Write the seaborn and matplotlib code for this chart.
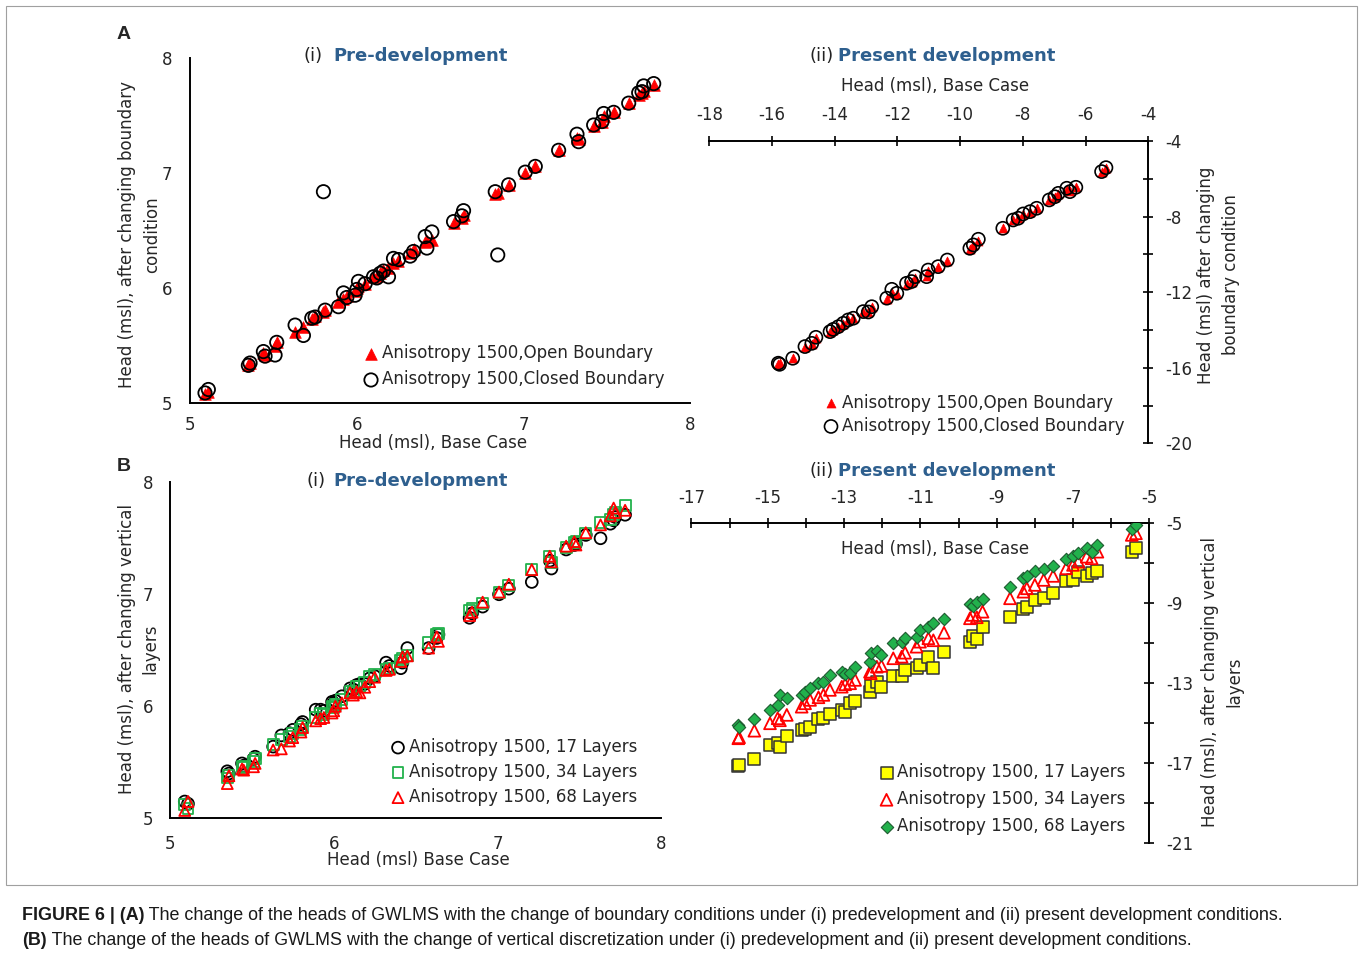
import matplotlib
matplotlib.use('Agg')
import numpy as np
import matplotlib.pyplot as plt
from matplotlib.patches import Rectangle
import seaborn as sns

# ---------------- data ----------------
# (A)(i) / (B)(i) pre-development, base case heads (msl)
pre_base = [5.09, 5.11, 5.35, 5.36, 5.44, 5.45, 5.51, 5.52, 5.63, 5.68,
            5.73, 5.75, 5.80, 5.81, 5.89, 5.92, 5.94, 5.99, 6.00, 6.01,
            6.05, 6.10, 6.12, 6.14, 6.16, 6.19, 6.22, 6.25, 6.32, 6.34,
            6.41, 6.42, 6.45, 6.58, 6.63, 6.64, 6.83, 6.845, 6.91, 7.01,
            7.07, 7.21, 7.32, 7.33, 7.42, 7.47, 7.48, 7.54, 7.63, 7.69,
            7.71, 7.72, 7.78]
pre_open = [5.08, 5.10, 5.33, 5.35, 5.44, 5.42, 5.50, 5.53, 5.62, 5.66,
            5.73, 5.76, 5.79, 5.81, 5.88, 5.91, 5.93, 5.98, 6.00, 6.02,
            6.04, 6.10, 6.11, 6.13, 6.16, 6.18, 6.22, 6.24, 6.31, 6.34,
            6.40, 6.41, 6.42, 6.57, 6.61, 6.64, 6.82, 6.83, 6.90, 7.00,
            7.06, 7.20, 7.31, 7.30, 7.41, 7.45, 7.50, 7.53, 7.61, 7.68,
            7.70, 7.72, 7.77]
pre_closed = [5.09, 5.12, 5.33, 5.35, 5.45, 5.41, 5.42, 5.53, 5.68, 5.59,
              5.74, 5.75, 6.84, 5.81, 5.84, 5.96, 5.92, 5.94, 5.99, 6.06,
              6.04, 6.10, 6.09, 6.13, 6.15, 6.10, 6.26, 6.25, 6.28, 6.32,
              6.45, 6.35, 6.49, 6.58, 6.63, 6.675, 6.84, 6.29, 6.90, 7.01,
              7.06, 7.20, 7.34, 7.275, 7.42, 7.45, 7.52, 7.53, 7.61, 7.70,
              7.71, 7.76, 7.78]
pre_17 = [5.15, 5.13, 5.42, 5.40, 5.49, 5.47, 5.53, 5.55, 5.64, 5.74,
          5.76, 5.79, 5.84, 5.86, 5.97, 5.97, 5.96, 6.04, 6.03, 6.05,
          6.09, 6.16, 6.15, 6.19, 6.20, 6.20, 6.25, 6.27, 6.39, 6.36,
          6.34, 6.39, 6.52, 6.52, 6.61, 6.64, 6.79, 6.83, 6.89, 7.00,
          7.05, 7.11, 7.30, 7.23, 7.40, 7.44, 7.45, 7.53, 7.50, 7.63,
          7.66, 7.69, 7.71]
pre_34 = [5.12, 5.09, 5.36, 5.38, 5.46, 5.45, 5.51, 5.53, 5.655, 5.70,
          5.73, 5.76, 5.79, 5.82, 5.90, 5.94, 5.93, 6.00, 5.99, 6.02,
          6.06, 6.13, 6.12, 6.18, 6.18, 6.21, 6.27, 6.28, 6.33, 6.34,
          6.41, 6.43, 6.45, 6.57, 6.64, 6.65, 6.86, 6.87, 6.92, 7.02,
          7.08, 7.22, 7.34, 7.28, 7.42, 7.46, 7.47, 7.54, 7.64, 7.67,
          7.71, 7.73, 7.79]
pre_68 = [5.07, 5.15, 5.31, 5.38, 5.44, 5.43, 5.46, 5.49, 5.61, 5.62,
          5.69, 5.72, 5.77, 5.81, 5.87, 5.89, 5.90, 5.94, 5.96, 6.00,
          6.03, 6.12, 6.10, 6.13, 6.12, 6.17, 6.22, 6.26, 6.32, 6.33,
          6.40, 6.44, 6.45, 6.52, 6.62, 6.58, 6.81, 6.84, 6.93, 7.02,
          7.09, 7.22, 7.34, 7.29, 7.43, 7.47, 7.44, 7.55, 7.62, 7.70,
          7.77, 7.73, 7.75]

# (A)(ii) present development, boundary condition test
pres_a_base = [-15.80, -15.76, -15.34, -14.95, -14.73, -14.60, -14.15, -14.05,
               -13.89, -13.73, -13.57, -13.41, -13.09, -12.93, -12.82, -12.34,
               -12.18, -12.02, -11.71, -11.55, -11.44, -11.07, -11.02, -10.70,
               -10.41, -9.69, -9.58, -9.42, -8.64, -8.31, -8.15, -7.99,
               -7.77, -7.56, -7.16, -6.98, -6.87, -6.60, -6.50, -6.31,
               -5.49, -5.35]
pres_a_open = [-15.78, -15.74, -15.50, -14.90, -14.72, -14.45, -14.10, -13.98,
               -13.84, -13.66, -13.50, -13.38, -13.05, -13.03, -12.80, -12.35,
               -12.06, -12.08, -11.58, -11.46, -11.25, -11.15, -10.88, -10.66,
               -10.33, -9.70, -9.52, -9.28, -8.62, -8.20, -8.10, -7.88,
               -7.75, -7.56, -7.14, -6.97, -6.80, -6.55, -6.62, -6.45,
               -5.63, -5.43]
pres_a_closed = [-15.76, -15.82, -15.50, -14.88, -14.71, -14.39, -14.09, -13.97,
                 -13.83, -13.65, -13.47, -13.38, -13.03, -13.05, -12.77, -12.32,
                 -11.85, -12.06, -11.53, -11.44, -11.18, -11.18, -10.83, -10.65,
                 -10.30, -9.68, -9.50, -9.20, -8.62, -8.18, -8.09, -7.86,
                 -7.74, -7.56, -7.12, -6.95, -6.77, -6.50, -6.68, -6.45,
                 -5.62, -5.41]

# (B)(ii) present development, vertical layers test
pres_b_base = [-15.77, -15.75, -15.35, -14.94, -14.74, -14.68, -14.50, -14.11,
               -14.02, -13.89, -13.67, -13.54, -13.37, -13.06, -12.97, -12.84,
               -12.71, -12.32, -12.30, -12.14, -12.02, -11.71, -11.49, -11.40,
               -11.10, -11.01, -10.79, -10.66, -10.38, -9.70, -9.63, -9.52,
               -9.37, -8.65, -8.30, -8.21, -8.00, -7.77, -7.52, -7.18,
               -7.00, -6.86, -6.64, -6.51, -6.36, -5.46, -5.35]
pres_b_17 = [-17.13, -17.08, -16.80, -16.08, -16.00, -16.20, -15.63, -15.33,
             -15.30, -15.17, -14.80, -14.75, -14.53, -14.33, -14.42, -14.00,
             -13.87, -13.42, -13.15, -12.92, -13.20, -12.63, -12.63, -12.33,
             -12.25, -12.08, -11.67, -12.25, -11.42, -10.92, -10.63, -10.80,
             -10.17, -9.70, -9.30, -9.20, -8.83, -8.75, -8.47, -7.87,
             -7.83, -7.42, -7.63, -7.50, -7.37, -6.42, -6.25]
pres_b_34 = [-15.75, -15.70, -15.37, -15.00, -14.75, -14.85, -14.58, -14.17,
             -14.00, -13.83, -13.70, -13.58, -13.33, -13.17, -13.05, -13.00,
             -12.83, -12.42, -12.50, -12.17, -12.13, -11.75, -11.67, -11.47,
             -11.17, -10.92, -10.75, -10.85, -10.47, -9.75, -9.58, -9.70,
             -9.42, -8.75, -8.42, -8.25, -8.08, -7.83, -7.63, -7.25,
             -7.08, -6.92, -6.67, -6.75, -6.42, -5.58, -5.50]
pres_b_68 = [-15.08, -15.20, -14.80, -14.33, -14.08, -13.58, -13.75, -13.58,
             -13.42, -13.25, -13.00, -12.92, -12.58, -12.42, -12.55, -12.47,
             -12.17, -11.92, -11.50, -11.37, -11.58, -11.00, -10.92, -10.75,
             -10.67, -10.33, -10.17, -9.97, -9.80, -9.03, -9.13, -8.92,
             -8.80, -8.17, -7.75, -7.63, -7.38, -7.28, -7.13, -6.80,
             -6.63, -6.50, -6.25, -6.42, -6.08, -5.30, -5.08]

# tick values
pre_ticks = [5, 6, 7, 8]
pre_minor = [5.5, 6.5, 7.5]
a2_xticks = [-18, -16, -14, -12, -10, -8, -6, -4]
a2_yticks = [-20, -16, -12, -8, -4]
a2_yminor = [-18, -14, -10, -6]
b2_xticks = [-17, -15, -13, -11, -9, -7, -5]
b2_xminor = [-16, -14, -12, -10, -8, -6]
b2_yticks = [-21, -17, -13, -9, -5]
b2_yminor = [-19, -15, -11, -7]

# ---------------- figure ----------------
W, H = 1363, 959
sns.set_style('white')
plt.rcParams['font.family'] = ['DejaVu Sans']
plt.rcParams['axes.unicode_minus'] = False

fig = plt.figure(figsize=(W / 100, H / 100), dpi=100)
BLUE = '#2e5f8e'
FS = 12


def fx(px):
    return px / W


def fy(py):
    return 1 - py / H


def add_ax(left, right, top, bottom):
    # axes placed by pixel edges of the data area
    ax = fig.add_axes([left / W, 1 - bottom / H, (right - left) / W, (bottom - top) / H])
    ax.set_facecolor('none')
    return ax


def style_spines(ax, sides):
    for s in ['left', 'right', 'top', 'bottom']:
        ax.spines[s].set_visible(s in sides)
        ax.spines[s].set_color('black')
        ax.spines[s].set_linewidth(1.4)


def center_label(lab):
    lab.set_ha('center')
    lab.set_va('center')
    lab.set_linespacing(1.5)


def panel_title(prefix, name, x_pre, x_name, y_base):
    fig.text(fx(x_pre), fy(y_base), prefix, ha='right', va='baseline', fontsize=13, color='#222222')
    fig.text(fx(x_name), fy(y_base), name, ha='left', va='baseline', fontsize=13,
             weight='bold', color=BLUE)


def put_legend(ax, left, top, spacing):
    h, l = ax.get_legend_handles_labels()
    ax.legend(h, l, loc='upper left', bbox_to_anchor=(fx(left), fy(top)),
              bbox_transform=fig.transFigure, frameon=False, fontsize=FS,
              handlelength=0.6, handletextpad=0.35, labelspacing=spacing,
              borderpad=0, borderaxespad=0, scatterpoints=1)


# ---- (A)(i) Pre-development ----
ax1 = add_ax(190, 690.4, 58.3, 403.3)
sns.scatterplot(x=pre_base, y=pre_open, ax=ax1, marker='^', s=70, color='red',
                edgecolor='red', linewidth=0.5, label='Anisotropy 1500,Open Boundary', zorder=3)
sns.scatterplot(x=pre_base, y=pre_closed, ax=ax1, marker='o', s=92, color='black',
                facecolor='none', edgecolor='black', linewidth=1.3,
                label='Anisotropy 1500,Closed Boundary', zorder=4)
ax1.set_xlim(5, 8)
ax1.set_ylim(5, 8)
ax1.set_xticks(pre_ticks)
ax1.set_yticks(pre_ticks)
ax1.set_xticks(pre_minor, minor=True)
ax1.set_yticks(pre_minor, minor=True)
style_spines(ax1, ['left', 'bottom'])
ax1.tick_params(which='major', direction='inout', length=7, width=1.4, labelsize=FS)
ax1.tick_params(which='minor', direction='in', length=4, width=1.4)
ax1.tick_params(axis='x', which='major', pad=6)
ax1.tick_params(axis='y', which='major', pad=9.5)
ax1.set_xlabel('Head (msl), Base Case', fontsize=FS)
ax1.set_ylabel('Head (msl), after changing boundary\ncondition', fontsize=FS)
ax1.xaxis.set_label_coords(0.486, -0.116)
ax1.yaxis.set_label_coords(-0.1, 0.488)
center_label(ax1.xaxis.label)
center_label(ax1.yaxis.label)
put_legend(ax1, 366, 344, 0.5)

# ---- (A)(ii) Present development ----
ax2 = add_ax(709.3, 1148.3, 141, 443.3)
sns.scatterplot(x=pres_a_base, y=pres_a_open, ax=ax2, marker='^', s=42, color='red',
                edgecolor='red', linewidth=0.5, label='Anisotropy 1500,Open Boundary', zorder=3)
sns.scatterplot(x=pres_a_base, y=pres_a_closed, ax=ax2, marker='o', s=88, color='black',
                facecolor='none', edgecolor='black', linewidth=1.2,
                label='Anisotropy 1500,Closed Boundary', zorder=4)
ax2.set_xlim(-18, -4)
ax2.set_ylim(-20, -4)
ax2.xaxis.tick_top()
ax2.yaxis.tick_right()
ax2.set_xticks(a2_xticks)
ax2.set_yticks(a2_yticks)
ax2.set_yticks(a2_yminor, minor=True)
style_spines(ax2, ['top', 'right'])
ax2.tick_params(which='both', direction='inout', length=7, width=1.4, labelsize=FS, pad=8.5)
ax2.xaxis.set_label_position('top')
ax2.yaxis.set_label_position('right')
ax2.set_xlabel('Head (msl), Base Case', fontsize=FS)
ax2.set_ylabel('Head (msl) after changing\nboundary condition', fontsize=FS)
ax2.xaxis.set_label_coords(0.514, 1.182)
ax2.yaxis.set_label_coords(1.161, 0.557)
center_label(ax2.xaxis.label)
center_label(ax2.yaxis.label)
put_legend(ax2, 826, 393.5, 0.32)

# ---- (B)(i) Pre-development ----
ax3 = add_ax(170, 661.1, 482.3, 818.3)
sns.scatterplot(x=pre_base, y=pre_17, ax=ax3, marker='o', s=72, color='black',
                facecolor='none', edgecolor='black', linewidth=1.3,
                label='Anisotropy 1500, 17 Layers', zorder=3)
sns.scatterplot(x=pre_base, y=pre_34, ax=ax3, marker='s', s=62, color='#22b24c',
                facecolor='none', edgecolor='#22b24c', linewidth=1.3,
                label='Anisotropy 1500, 34 Layers', zorder=4)
sns.scatterplot(x=pre_base, y=pre_68, ax=ax3, marker='^', s=62, color='red',
                facecolor='none', edgecolor='red', linewidth=1.3,
                label='Anisotropy 1500, 68 Layers', zorder=5)
ax3.set_xlim(5, 8)
ax3.set_ylim(5, 8)
ax3.set_xticks(pre_ticks)
ax3.set_yticks(pre_ticks)
ax3.set_xticks(pre_minor, minor=True)
ax3.set_yticks(pre_minor, minor=True)
style_spines(ax3, ['left', 'bottom'])
ax3.tick_params(which='major', direction='inout', length=7, width=1.4, labelsize=FS, pad=8.5)
ax3.tick_params(which='minor', direction='in', length=4, width=1.4)
ax3.set_xlabel('Head (msl) Base Case', fontsize=FS)
# the two lines of the y title sit either side of the tick labels' column
ax3.set_ylabel('Head (msl), after changing vertical', fontsize=FS)
ax3.yaxis.set_label_coords(-0.088, 0.504)
ax3.text(-0.04, 0.504, 'layers', transform=ax3.transAxes, rotation=90,
         ha='center', va='center', fontsize=FS)
ax3.xaxis.set_label_coords(0.505, -0.124)
center_label(ax3.xaxis.label)
center_label(ax3.yaxis.label)
put_legend(ax3, 393, 738, 0.42)

# ---- (B)(ii) Present development ----
ax4 = add_ax(691.4, 1149.3, 523.3, 843.3)
sns.scatterplot(x=pres_b_base, y=pres_b_17, ax=ax4, marker='s', s=75, color='#ffff00',
                facecolor='#ffff00', edgecolor='#333333', linewidth=1.1,
                label='Anisotropy 1500, 17 Layers', zorder=3)
sns.scatterplot(x=pres_b_base, y=pres_b_34, ax=ax4, marker='^', s=72, color='red',
                facecolor='none', edgecolor='red', linewidth=1.3,
                label='Anisotropy 1500, 34 Layers', zorder=4)
sns.scatterplot(x=pres_b_base, y=pres_b_68, ax=ax4, marker='D', s=40, color='#22b14c',
                facecolor='#22b14c', edgecolor='#1d5a2f', linewidth=0.8,
                label='Anisotropy 1500, 68 Layers', zorder=5)
ax4.set_xlim(-17, -5)
ax4.set_ylim(-21, -5)
ax4.xaxis.tick_top()
ax4.yaxis.tick_right()
ax4.set_xticks(b2_xticks)
ax4.set_xticks(b2_xminor, minor=True)
ax4.set_yticks(b2_yticks)
ax4.set_yticks(b2_yminor, minor=True)
style_spines(ax4, ['top', 'right'])
ax4.tick_params(which='both', direction='inout', length=7, width=1.4, labelsize=FS, pad=8.5)
ax4.xaxis.set_label_position('top')
ax4.yaxis.set_label_position('right')
ax4.set_xlabel('Head (msl), Base Case', fontsize=FS)
ax4.set_ylabel('Head (msl), after changing vertical\nlayers', fontsize=FS)
ax4.xaxis.set_label_coords(0.532, 0.920)
ax4.yaxis.set_label_coords(1.159, 0.504)
center_label(ax4.xaxis.label)
center_label(ax4.yaxis.label)
put_legend(ax4, 881.5, 763, 0.55)

# ---- panel titles and letters ----
panel_title('(i)', 'Pre-development', 323, 333, 61)
panel_title('(ii)', 'Present development', 834, 838, 61)
panel_title('(i)', 'Pre-development', 326, 333, 486)
panel_title('(ii)', 'Present development', 834, 838, 476)
fig.text(fx(117), fy(39), 'A', fontsize=14, weight='bold', family='Liberation Sans')
fig.text(fx(117), fy(471), 'B', fontsize=14, weight='bold', family='Liberation Sans')

# thin frame around the chart area
fig.add_artist(Rectangle((fx(6), fy(885)), (1357 - 6) / W, (885 - 6) / H,
                         transform=fig.transFigure, fill=False, edgecolor='#a0a0a0', linewidth=0.8))

# ---- caption ----
renderer = fig.canvas.get_renderer()
cap = [('FIGURE 6 | (A)', ' The change of the heads of GWLMS with the change of boundary conditions '
        'under (i) predevelopment and (ii) present development conditions.'),
       ('(B)', ' The change of the heads of GWLMS with the change of vertical discretization '
        'under (i) predevelopment and (ii) present development conditions.')]
for (bold, rest), yb in zip(cap, [920, 945]):
    t = fig.text(fx(22), fy(yb), bold, fontsize=12.9, weight='bold', family='Liberation Sans',
                 color='#1a1a1a', va='baseline')
    bb = t.get_window_extent(renderer)
    fig.text(bb.x1 / W, fy(yb), rest, fontsize=12.9, family='Liberation Sans',
             color='#1a1a1a', va='baseline')

fig.savefig('out.png', dpi=100)
